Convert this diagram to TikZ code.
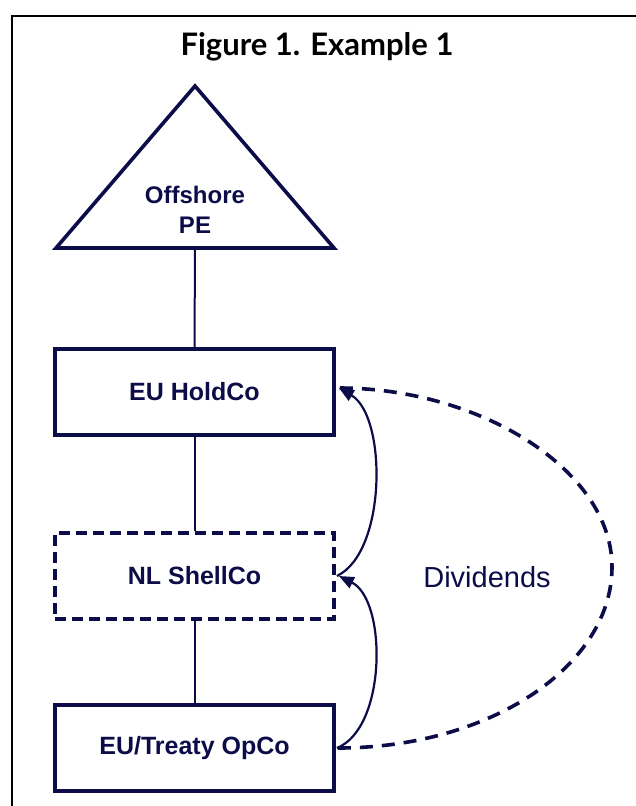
\documentclass[tikz,border=0pt]{standalone}
\usepackage{fontspec}
\setmainfont{Liberation Sans}
\newfontfamily\boxfont{Liberation Sans}
\newfontfamily\titlefont{Lato}
\usetikzlibrary{arrows.meta}
\definecolor{navy}{RGB}{12,12,72}
\begin{document}
\begin{tikzpicture}[x=1pt,y=-1pt,
  ent/.style={draw=navy, line width=3.8pt, minimum width=279pt, minimum height=86pt,
    font=\boxfont\bfseries\fontsize{25}{28}\selectfont, text=navy, inner sep=0pt},
  link/.style={draw=navy, line width=2pt},
  flow/.style={draw=navy, line width=2.2pt, -{Triangle[length=15pt,width=12pt]}},
  bigflow/.style={draw=navy, line width=3.6pt, dash pattern=on 13pt off 9pt},
]
\useasboundingbox (0,0) rectangle (635,806);
% outer frame
\draw[line width=2.6pt, black] (12,16) rectangle (660,830);
% title
\node (title) at (317,47) {\titlefont\bfseries\fontsize{31}{34}\selectfont Figure 1. Example 1};
% triangle
\draw[navy, line width=3.6pt, line join=miter] (56,248) -- (195,86) -- (334,248) -- cycle;
\coordinate (pebase) at (195,248);
\node[text=navy, align=center, font=\boxfont\bfseries\fontsize{24}{30}\selectfont] (pe) at (195,210) {Offshore\\PE};
% entities
\node[ent] (holdco) at (194.5,392) {EU HoldCo};
\node[ent, dash pattern=on 11pt off 6pt] (shellco) at (194.5,576) {NL ShellCo};
\node[ent] (opco) at (194.5,748) {EU/Treaty OpCo};
% ownership links
\draw[link] (pebase) -- (holdco.north);
\draw[link] (holdco.south) -- (shellco.north);
\draw[link] (shellco.south) -- (opco.north);
% dividend flows
\draw[bigflow] ([xshift=2pt]opco.east) .. controls (490,748) and (612,666) .. (612,567)
  .. controls (612,470) and (480,388) .. ([xshift=3pt,yshift=4pt]holdco.east);
\draw[flow] ([xshift=1pt]opco.east) .. controls (387,728) and (387,600) .. ([xshift=3pt]shellco.east);
\draw[flow] ([xshift=1pt]shellco.east) .. controls (387,552) and (387,416) .. ([xshift=3pt,yshift=4pt]holdco.east);
\node[text=navy, font=\boxfont\fontsize{29}{32}\selectfont] (div) at (487,577) {Dividends};
\end{tikzpicture}
\end{document}
